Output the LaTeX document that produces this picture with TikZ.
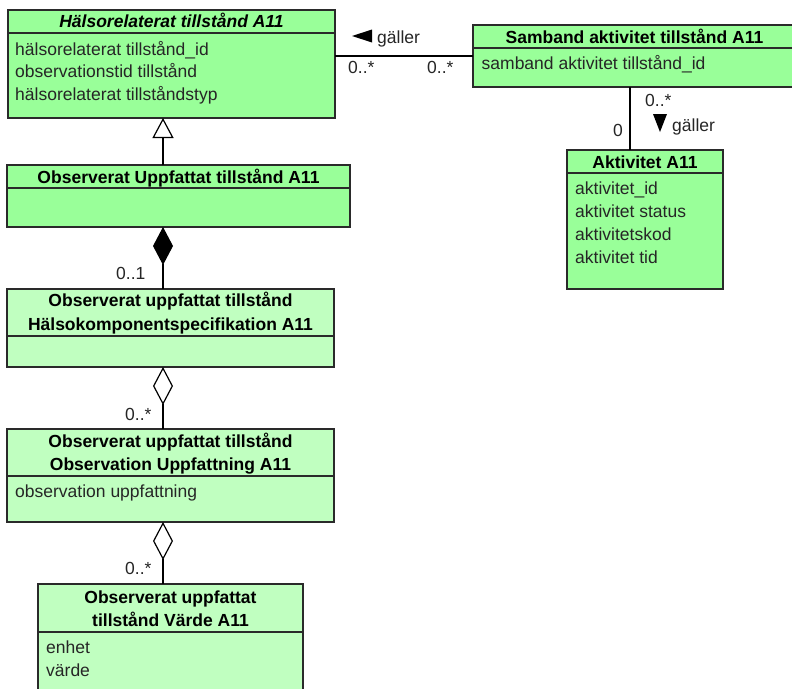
\documentclass[tikz,border=0pt]{standalone}
\usepackage{fontspec}
\setmainfont{Liberation Sans}
\usetikzlibrary{arrows.meta}

\definecolor{clsA}{HTML}{99FF99}
\definecolor{clsB}{HTML}{C0FFC0}
\definecolor{edgecol}{HTML}{2A2A2A}
\definecolor{attrcol}{HTML}{262626}

\tikzset{
  cls/.style={draw=edgecol, line width=1.2pt, anchor=north west, inner sep=0pt, outer sep=0pt},
  sepline/.style={draw=edgecol, line width=1.2pt},
  ttl/.style={font=\fontsize{17.5}{23}\selectfont\bfseries, anchor=base, inner sep=0pt, text=black},
  attr/.style={font=\fontsize{17.5}{23}\selectfont, anchor=base west, inner sep=0pt, text=attrcol},
  mult/.style={font=\fontsize{17.5}{23}\selectfont, anchor=base west, inner sep=0pt, text=attrcol},
  assoc/.style={draw=black, line width=1.2pt},
  dir/.style={fill=black, draw=none},
}

\begin{document}
\begin{tikzpicture}[x=1pt, y=-1pt]
\useasboundingbox (0,0) rectangle (792,688);
\clip (0,0) rectangle (792,688);
\fill[white] (0,0) rectangle (792,688);

% column of the vertical links on the left side
\coordinate (spine) at (163,0);
\coordinate (lnk) at (630,0);

% ---- Hälsorelaterat tillstånd A11 (abstract) ----
\node[cls, fill=clsA, minimum width=327pt, minimum height=108pt] (hr) at (8,10) {};
\draw[sepline] (8,33) -- (335,33);
\node[ttl, font=\fontsize{17.5}{23}\selectfont\bfseries\itshape] (hrT) at (171.5,27.5) {Hälsorelaterat tillstånd A11};
\node[attr] (hrA1) at (15,55) {hälsorelaterat tillstånd\_id};
\node[attr] (hrA2) at (15,77.5) {observationstid tillstånd};
\node[attr] (hrA3) at (15,100) {hälsorelaterat tillståndstyp};

% ---- Samband aktivitet tillstånd A11 ----
\node[cls, fill=clsA, minimum width=330pt, minimum height=62pt] (sb) at (473,25) {};
\draw[sepline] (473,48) -- (803,48);
\node[ttl] (sbT) at (634.5,43) {Samband aktivitet tillstånd A11};
\node[attr] (sbA1) at (481.5,69.3) {samband aktivitet tillstånd\_id};

% ---- Aktivitet A11 ----
\node[cls, fill=clsA, minimum width=156pt, minimum height=139pt] (akt) at (567,150) {};
\draw[sepline] (567,173) -- (723,173);
\node[ttl] (aktT) at (645,168) {Aktivitet A11};
\node[attr] (aktA1) at (575,194) {aktivitet\_id};
\node[attr] (aktA2) at (575,217) {aktivitet status};
\node[attr] (aktA3) at (575,240) {aktivitetskod};
\node[attr] (aktA4) at (575,263) {aktivitet tid};

% ---- Observerat Uppfattat tillstånd A11 ----
\node[cls, fill=clsA, minimum width=343pt, minimum height=62pt] (ob) at (7,165) {};
\draw[sepline] (7,188) -- (350,188);
\node[ttl] (obT) at (178.5,183) {Observerat Uppfattat tillstånd A11};

% ---- Hälsokomponentspecifikation ----
\node[cls, fill=clsB, minimum width=327pt, minimum height=78pt] (hk) at (7,289) {};
\draw[sepline] (7,336) -- (334,336);
\node[ttl] (hkT1) at (170.5,306.5) {Observerat uppfattat tillstånd};
\node[ttl] (hkT2) at (170.5,330) {Hälsokomponentspecifikation A11};

% ---- Observation Uppfattning ----
\node[cls, fill=clsB, minimum width=327pt, minimum height=93pt] (ou) at (7,429) {};
\draw[sepline] (7,476) -- (334,476);
\node[ttl] (ouT1) at (170.5,447) {Observerat uppfattat tillstånd};
\node[ttl] (ouT2) at (170.5,470.5) {Observation Uppfattning A11};
\node[attr] (ouA1) at (15,497.3) {observation uppfattning};

% ---- Värde ----
\node[cls, fill=clsB, minimum width=265pt, minimum height=120pt] (va) at (38,584) {};
\draw[sepline] (38,632) -- (303,632);
\node[ttl] (vaT1) at (170.5,603) {Observerat uppfattat};
\node[ttl] (vaT2) at (170.5,626.5) {tillstånd Värde A11};
\node[attr] (vaA1) at (46,653.3) {enhet};
\node[attr] (vaA2) at (46,676) {värde};

% ---- association: gäller (Samband -> Hälsorelaterat tillstånd) ----
\draw[assoc] (sb.west) -- (sb.west -| hr.east);
\fill[dir] (372,29.5) -- (372,42.5) -- (352,36) -- cycle;
\node[mult] (g1) at (377,43) {gäller};
\node[mult] (m1) at (348,73) {0..*};
\node[mult] (m2) at (427,73) {0..*};

% ---- association: gäller (Samband -> Aktivitet) ----
\draw[assoc] (sb.south -| lnk) -- (akt.north -| lnk);
\fill[dir] (653,114) -- (667,114) -- (660,132) -- cycle;
\node[mult] (g2) at (672,131.7) {gäller};
\node[mult] (m3) at (645,106) {0..*};
\node[mult] (m4) at (613,136.7) {0};

% ---- generalisation ----
\draw[assoc, -{Triangle[fill=white, length=20pt, width=21pt]}] (ob.north -| spine) -- (hr.south -| spine);

% ---- composition ----
\draw[assoc, {Diamond[length=38pt, width=20pt]}-] (ob.south -| spine) -- (hk.north -| spine);
\node[mult] (m5) at (116,279.3) {0..1};

% ---- aggregations ----
\draw[assoc, {Diamond[fill=white, length=38pt, width=20pt]}-] (hk.south -| spine) -- (ou.north -| spine);
\node[mult] (m6) at (125,420) {0..*};
\draw[assoc, {Diamond[fill=white, length=38pt, width=20pt]}-] (ou.south -| spine) -- (va.north -| spine);
\node[mult] (m7) at (125,574) {0..*};
\end{tikzpicture}
\end{document}
